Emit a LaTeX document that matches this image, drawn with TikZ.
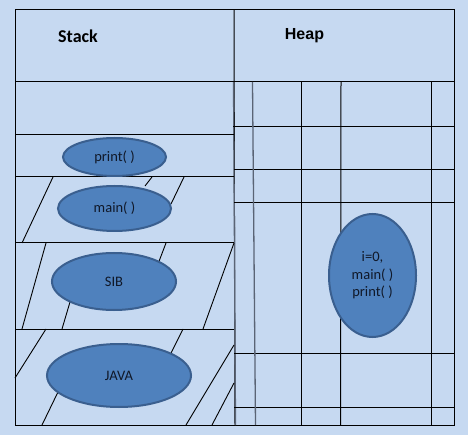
\documentclass[tikz,border=0pt]{standalone}
\usepackage{fontspec}
\setmainfont{Carlito}
\newfontfamily\arialfont{Liberation Sans}
\usetikzlibrary{shapes.geometric}
\definecolor{bgblue}{HTML}{C6D9F1}
\definecolor{ellfill}{HTML}{4F81BD}
\definecolor{elldraw}{HTML}{3A5F8F}
\definecolor{txt}{HTML}{101828}
\definecolor{grayline}{HTML}{5A6475}
\tikzset{
  grid/.style={draw=black, line width=1pt},
  gline/.style={draw=grayline, line width=1.3pt},
  hatch/.style={draw=black, line width=0.9pt},
  blob/.style={ellipse, fill=ellfill, draw=elldraw, line width=2pt, inner sep=0pt,
    text=txt, font=\fontsize{14.5}{17.5}\selectfont},
  title/.style={text=black, font=\fontsize{18}{20}\selectfont\bfseries, inner sep=0pt}
}
\begin{document}
\begin{tikzpicture}[x=1pt,y=-1pt]
\fill[bgblue] (0,0) rectangle (468,435);
\useasboundingbox (0,0) rectangle (468,435);
% outer frame and divider
\draw[grid] (15,10) rectangle (454,425);
\draw[grid] (234,10) -- (235,425);
\draw[gline] (233.5,82) -- (235.5,425);
% stack rows
\draw[grid] (15,82) -- (454,82);
\draw[grid] (15,135) -- (234,135);
\draw[grid] (15,177) -- (234,177);
\draw[grid] (15,243) -- (234,243);
\draw[grid] (15,329) -- (234,329);
% heap grid
\draw[grid] (233,127) -- (454,127);
\draw[grid] (234,170) -- (454,170);
\draw[grid] (234,203) -- (454,203);
\draw[grid] (234,353) -- (454,353);
\draw[grid] (234,407) -- (454,407);
\draw[gline] (252.5,82) -- (255.5,425);
\draw[grid] (301,82) -- (301,425);
\draw[grid] (341,82) -- (340.5,425);
\draw[grid] (431,82) -- (431,425);
% hatch lines
\draw[hatch] (53,177) -- (22,243);
\draw[hatch] (152,177) -- (145,186);
\draw[hatch] (184,177) -- (171,204);
\draw[hatch] (46,243) -- (22,329);
\draw[hatch] (166,243) -- (158,264);
\draw[hatch] (70,302) -- (62,329);
\draw[hatch] (234,243) -- (203,329);
\draw[hatch] (46,329) -- (15,378);
\draw[hatch] (183,329) -- (170,355);
\draw[hatch] (58,392) -- (42,425);
\draw[hatch] (234,345) -- (186,425);
\draw[hatch] (234,383) -- (212,425);
% titles
\node[title] (stack) at (78,36) {Stack};
\node[title, font=\arialfont\fontsize{16}{18}\selectfont\bfseries] (heap) at (304.5,36) {Heap};
% ellipses
\node[blob, minimum width=103pt, minimum height=38pt] (print) at (114.5,157) {print( )};
\node[blob, minimum width=113pt, minimum height=45pt] (main) at (114.5,208.5) {main( )};
\node[blob, minimum width=124pt, minimum height=57pt] (sib) at (114,281.5) {SIB};
\node[blob, minimum width=144pt, minimum height=63pt] (java) at (119,375.5) {JAVA};
\node[blob, minimum width=87pt, minimum height=123pt, align=center] (heapobj) at (372.5,275.5) {i=0,\\main( )\\print( )};
\end{tikzpicture}
\end{document}
